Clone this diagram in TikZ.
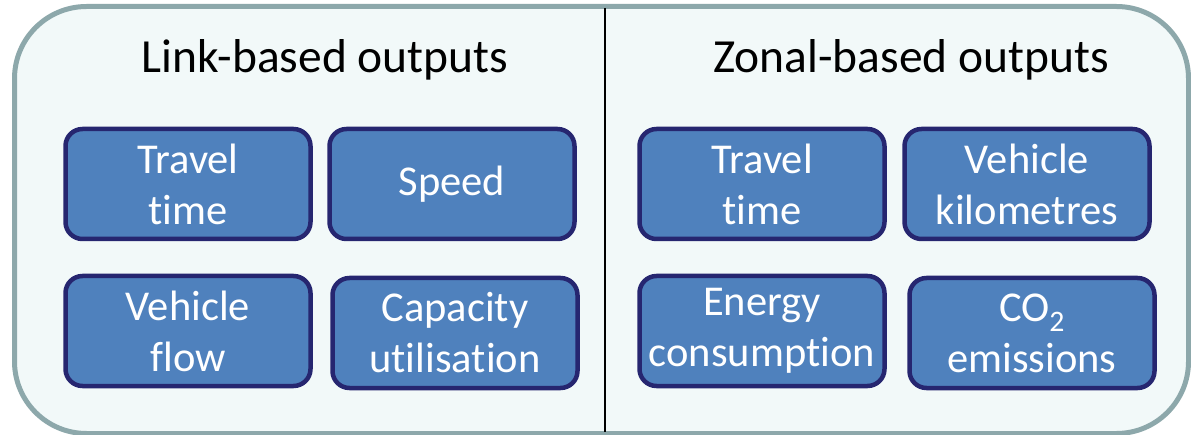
\documentclass[tikz,border=0pt]{standalone}
\usepackage{fontspec}
\setmainfont{Carlito}[Ligatures=NoCommon]
\definecolor{outerborder}{RGB}{141,168,171}
\definecolor{outerfill}{RGB}{242,249,249}
\definecolor{boxfill}{RGB}{79,129,189}
\definecolor{boxborder}{RGB}{38,38,112}
\begin{document}
\begin{tikzpicture}[x=1pt,y=-1pt,
  outerbox/.style={draw=outerborder,fill=outerfill,line width=5pt,rounded corners=72pt},
  itembox/.style={draw=boxborder,fill=boxfill,line width=4.5pt,rounded corners=17pt,
    minimum width=245pt,minimum height=110pt,inner sep=0pt,text=white,align=center,
    font=\fontsize{42.5}{51}\selectfont},
  titletext/.style={font=\fontsize{47.5}{55}\selectfont,text=black,anchor=base},
  divider/.style={draw=black,line width=2pt}]
\useasboundingbox (0,0) rectangle (1191,435);
\draw[outerbox] (14.5,6.5) rectangle (1188.5,433.5);
\coordinate (dtop) at (605,8);
\coordinate (dbot) at (605,432);
\draw[divider] (dtop) -- (dbot);
\node[titletext] (t1) at (325,73) {Link-based outputs};
\node[titletext] (t2) at (911,73) {Zonal-based outputs};
\node[itembox] (b1) at (188,184) {Travel\\time};
\node[itembox] (b2) at (452,184) {Speed};
\node[itembox] (b3) at (188,331) {Vehicle\\flow};
\node[itembox] (b4) at (455,333) {Capacity\\utilisation};
\node[itembox] (b5) at (762,184) {Travel\\time};
\node[itembox] (b6) at (1027,184) {Vehicle\\kilometres};
\node[itembox] (b7) at (762,331) {Energy\\consumption};
\node[itembox] (b8) at (1032,333) {CO\textsubscript{2}\\emissions};
\end{tikzpicture}
\end{document}
